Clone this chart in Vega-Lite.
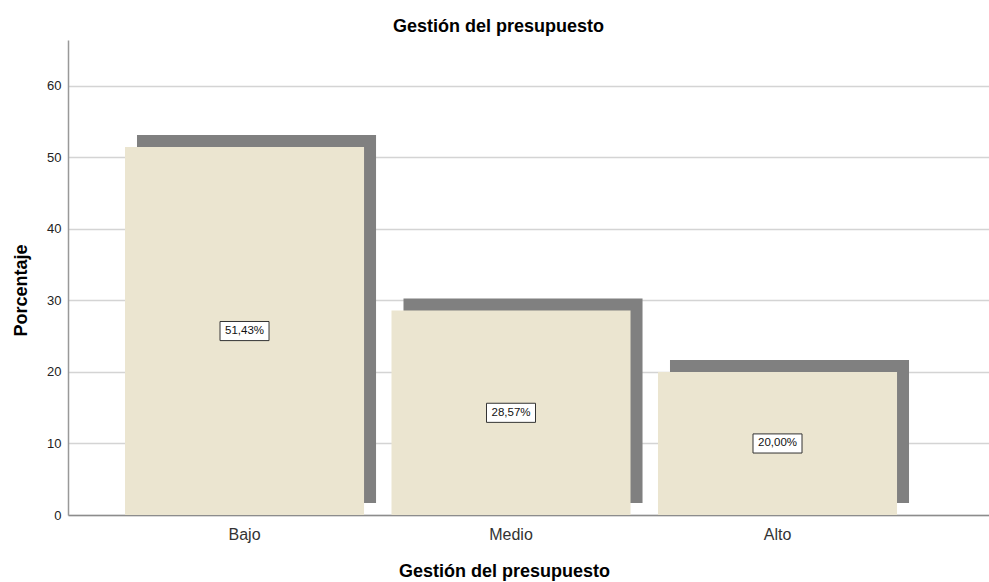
{
  "$schema": "https://vega.github.io/schema/vega-lite/v6.json",
  "width": 921,
  "height": 475,
  "padding": {"left": 68, "top": 40, "right": 0, "bottom": 67},
  "autosize": {"type": "none"},
  "background": "white",
  "config": {
    "font": "Liberation Sans",
    "view": {"stroke": null}
  },
  "title": {
    "text": "Gestión del presupuesto",
    "fontSize": 18,
    "fontWeight": "bold",
    "color": "#000000",
    "anchor": "middle",
    "frame": "group",
    "dx": -30,
    "offset": 4
  },
  "data": {
    "values": [
      {"categoria": "Bajo", "porcentaje": 51.43, "etiqueta": "51,43%", "mitad": 25.715},
      {"categoria": "Medio", "porcentaje": 28.57, "etiqueta": "28,57%", "mitad": 14.285},
      {"categoria": "Alto", "porcentaje": 20.0, "etiqueta": "20,00%", "mitad": 10.0}
    ]
  },
  "encoding": {
    "x": {
      "field": "categoria",
      "type": "nominal",
      "sort": ["Bajo", "Medio", "Alto"],
      "scale": {"paddingInner": 0.103, "paddingOuter": 0.2795, "align": 0.3826},
      "axis": {
        "title": "Gestión del presupuesto",
        "titleFontSize": 18,
        "titleFontWeight": "bold",
        "titleColor": "#000000",
        "titleX": 436,
        "titleY": 61,
        "titleBaseline": "alphabetic",
        "labelAngle": 0,
        "labelFontSize": 16,
        "labelColor": "#333333",
        "labelPadding": 11,
        "ticks": false,
        "domainColor": "#8c8c8c",
        "domainWidth": 1.5
      }
    }
  },
  "layer": [
    {
      "mark": {"type": "bar", "color": "#808080", "xOffset": 12, "yOffset": -12, "y2Offset": -12},
      "encoding": {
        "y": {
          "field": "porcentaje",
          "type": "quantitative",
          "scale": {"domain": [0, 66.4], "nice": false},
          "axis": {
            "title": "Porcentaje",
            "titleFontSize": 18,
            "titleFontWeight": "bold",
            "titleColor": "#000000",
            "titleX": -42,
            "titleY": 250,
            "titleBaseline": "alphabetic",
            "values": [0, 10, 20, 30, 40, 50, 60],
            "labelFontSize": 13,
            "labelColor": "#222222",
            "labelPadding": 7,
            "ticks": false,
            "grid": true,
            "gridColor": "#d4d4d4",
            "gridWidth": 1.5,
            "domainColor": "#999999",
            "domainWidth": 1.5
          }
        }
      }
    },
    {
      "mark": {"type": "bar", "color": "#ebe5d0"},
      "encoding": {
        "y": {"field": "porcentaje", "type": "quantitative"}
      }
    },
    {
      "mark": {
        "type": "point",
        "shape": "M-1,-0.39H1V0.39H-1Z",
        "size": 2401,
        "filled": false,
        "fill": "#ffffff",
        "stroke": "#333333",
        "strokeWidth": 1,
        "opacity": 1,
        "fillOpacity": 1
      },
      "encoding": {
        "y": {"field": "mitad", "type": "quantitative"}
      }
    },
    {
      "mark": {"type": "text", "fontSize": 11.5, "color": "#111111", "baseline": "middle", "align": "center"},
      "encoding": {
        "y": {"field": "mitad", "type": "quantitative"},
        "text": {"field": "etiqueta"}
      }
    }
  ]
}
